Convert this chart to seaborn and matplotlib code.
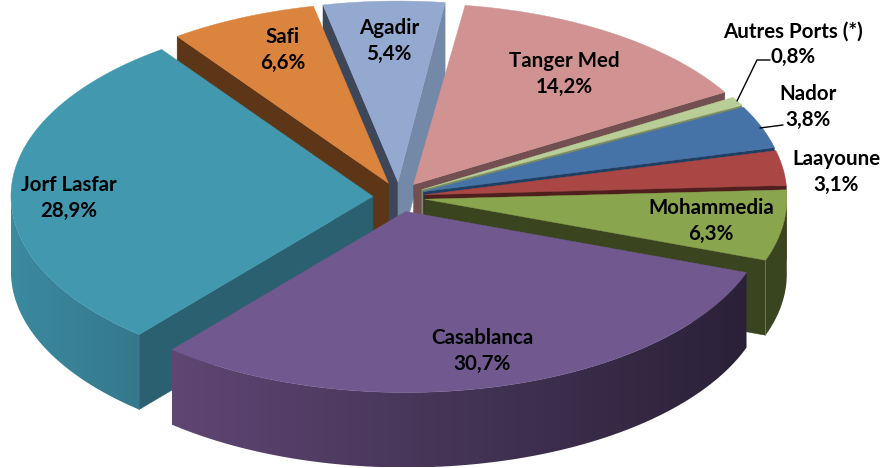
import numpy as np
import matplotlib
matplotlib.use("Agg")
import matplotlib.pyplot as plt
from matplotlib.colors import to_rgb
from matplotlib.patches import Polygon
import seaborn as sns

# Data, clockwise from the top of the pie
ports = ["Tanger Med", "Autres Ports (*)", "Nador", "Laayoune", "Mohammedia",
         "Casablanca", "Jorf Lasfar", "Safi", "Agadir"]
shares = [14.2, 0.8, 3.8, 3.1, 6.3, 30.7, 28.9, 6.6, 5.4]
share_labels = ["14,2%", "0,8%", "3,8%", "3,1%", "6,3%", "30,7%", "28,9%", "6,6%", "5,4%"]

top_colors = ["#D19392", "#B9CD96", "#4572A7", "#AA4643", "#89A54E",
              "#71588F", "#4198AF", "#DB843D", "#93A9CF"]
# radial wall on the clockwise start / end of each slice
start_wall = ["#724F50", "#7A8A62", "#1F3F63", "#4F1F1E", "#3A4520",
              "#2A2138", "#2A6070", "#5D3517", "#3E4759"]
end_wall = ["#724F50", "#7A8A62", "#1F3F63", "#4F1F1E", "#3A4520",
            "#2A2138", "#2A6070", "#5D3517", "#7489A8"]
# outer wall shading, left to right
rim_left = ["#724F50", "#7A8A62", "#1F3F63", "#4F1F1E", "#3A4520",
            "#5F4673", "#3B8AA0", "#5D3517", "#3E4759"]
rim_right = ["#724F50", "#7A8A62", "#1F3F63", "#4F1F1E", "#3A4520",
             "#2A2138", "#35788C", "#5D3517", "#3E4759"]

# text centres in the chart's pixel frame
label_x = [564, 793, 808, 836, 711, 482, 69, 283, 389]
label_y = [74, 44, 107, 172, 221, 351, 198, 50, 41]

CX, CY = 399, 197
RX, RY = 362, 181
DEPTH = 75
EXPLODE = 0.072
START = 8.2


def rim_points(ox, oy, a0, a1, n=120):
    a = np.radians(np.linspace(a0, a1, n))
    return ox + RX * np.sin(a), oy - RY * np.cos(a)


def draw_slice(ax, i, a0, a1):
    mid = np.radians((a0 + a1) / 2)
    ox = CX + EXPLODE * RX * np.sin(mid)
    oy = CY - EXPLODE * RY * np.cos(mid) * 1.15

    # radial walls
    for ang, col, show in ((a0, start_wall[i], np.sin(np.radians(a0)) < 0),
                           (a1, end_wall[i], np.sin(np.radians(a1)) > 0)):
        if show:
            x, y = rim_points(ox, oy, ang, ang, 1)
            ax.fill([ox, x[0], x[0], ox], [oy, y[0], y[0] + DEPTH, oy + DEPTH],
                    color=col, lw=0.3, zorder=i_order[i])

    # outer wall, only the part that faces the viewer, shaded along x
    lo, hi = max(a0, 90), min(a1, 270)
    if hi > lo:
        x, y = rim_points(ox, oy, lo, hi)
        xs = np.r_[x, x[::-1]]
        ys = np.r_[y, y[::-1] + DEPTH]
        t = np.linspace(0, 1, 256)[None, :, None]
        grad = np.array(to_rgb(rim_left[i])) * (1 - t) + np.array(to_rgb(rim_right[i])) * t
        im = ax.imshow(grad, extent=(xs.min(), xs.max(), ys.max(), ys.min()), aspect="auto",
                       interpolation="bilinear", zorder=i_order[i])
        clip = Polygon(np.c_[xs, ys], closed=True, transform=ax.transData)
        im.set_clip_path(clip)

    # top face
    x, y = rim_points(ox, oy, a0, a1)
    ax.fill(np.r_[ox, x], np.r_[oy, y], color=top_colors[i], lw=0.3,
            zorder=i_order[i] + 0.5)


sns.set_theme(style="white")
plt.rcParams["font.family"] = ["Lato", "DejaVu Sans"]

fig, ax = plt.subplots(figsize=(8.82, 4.68), dpi=100)
ax.set_position([0, 0, 1, 1])
ax.axis("off")

edges = START + np.r_[0, np.cumsum(shares)] * 360 / 100
mids = (edges[:-1] + edges[1:]) / 2
# back slices first, Casablanca always on top
order = sorted(range(len(ports)), key=lambda k: -np.cos(np.radians(mids[k])) + (0.5 if ports[k] == "Casablanca" else 0))
i_order = {k: 2 + 2 * n for n, k in enumerate(order)}

for i in range(len(ports)):
    draw_slice(ax, i, edges[i], edges[i + 1])

ax.set_xlim(0, 882)
ax.set_ylim(468, 0)

# leader lines
ax.plot([737, 757, 770], [101, 60, 60], color="black", lw=1, zorder=40)
ax.plot([760, 783], [128, 125], color="black", lw=1, zorder=40)

for i, name in enumerate(ports):
    ax.text(label_x[i], label_y[i], name + "\n" + share_labels[i], ha="center", va="center",
            fontsize=14.8, fontweight="bold", color="black", linespacing=1.32, zorder=50)

fig.savefig("out.png", dpi=100, facecolor="white")
